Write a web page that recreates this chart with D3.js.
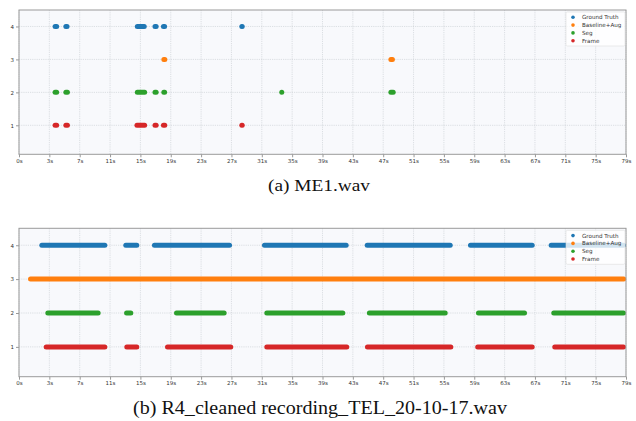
<!DOCTYPE html>
<html>
<head>
<meta charset="utf-8">
<script src="https://cdn.jsdelivr.net/npm/d3@7"></script>
<style>
  body { margin: 0; background: #fff; }
  svg { display: block; }
</style>
</head>
<body>
<script>
// series names + colours (matplotlib defaults)
const SERIES = ['Ground Truth', 'Baseline+Aug', 'Seg', 'Frame']
const LEVELS = [4, 3, 2, 1]
const COLORS = ['#1f77b4', '#ff7f0e', '#2ca02c', '#d62728']

// x ticks: 21 evenly spaced ticks over 79s, labels floored
const X_MAX = 79
const X_TICKS = d3.range(21).map(i => i * X_MAX / 20)
const Y_TICKS = [1, 2, 3, 4]

// (a) ME1.wav -- detected segments [start, end] in seconds
const me1_truth = [[4.7, 4.9], [6.1, 6.25], [15.4, 16.3], [17.7, 17.85], [18.8, 18.95], [29.0, 29.05]]
const me1_base = [[18.85, 18.98], [48.4, 48.6]]
const me1_seg = [[4.7, 4.9], [6.1, 6.3], [15.4, 16.35], [17.7, 17.85], [18.85, 18.95], [34.2, 34.2], [48.4, 48.7]]
const me1_frame = [[4.7, 4.9], [6.1, 6.3], [15.35, 16.35], [17.7, 17.85], [18.8, 18.97], [29.0, 29.05]]

// (b) R4_cleaned recording_TEL_20-10-17.wav
const r4_truth = [[2.97, 11.17], [13.9, 15.33], [17.63, 27.4], [31.95, 42.58], [45.32, 56.12], [58.76, 66.79], [69.26, 78.67]]
const r4_base = [[1.5, 78.7]]
const r4_seg = [[3.75, 10.3], [14.0, 14.55], [20.5, 26.7], [32.25, 42.14], [45.6, 55.47], [59.8, 65.79], [69.6, 78.67]]
const r4_frame = [[3.54, 11.17], [14.03, 15.33], [19.33, 27.56], [32.25, 42.66], [45.35, 56.2], [59.7, 66.79], [69.73, 78.67]]

const width = 636, height = 421

const svg = d3.select('body').append('svg')
  .attr('width', width)
  .attr('height', height)

function panel(top, bottom, data, caption, cap) {
  const margin = {left: 19, right: 10}
  const x = d3.scaleLinear().domain([0, X_MAX]).range([margin.left, width - margin.right])
  const y = d3.scaleLinear().domain([0.12, 4.5]).range([bottom, top])

  const g = svg.append('g')

  g.append('rect')
    .attr('x', x(0)).attr('y', top)
    .attr('width', x(X_MAX) - x(0)).attr('height', bottom - top)
    .attr('fill', '#f8f9fc')

  // grid
  g.append('g').selectAll('line')
    .data(X_TICKS)
    .join('line')
      .attr('x1', d => x(d)).attr('x2', d => x(d))
      .attr('y1', top).attr('y2', bottom)
      .attr('stroke', '#c8ccd2').attr('stroke-width', 0.6)
      .attr('stroke-dasharray', '1.2,1')
  g.append('g').selectAll('line')
    .data(Y_TICKS)
    .join('line')
      .attr('x1', x(0)).attr('x2', x(X_MAX))
      .attr('y1', d => y(d)).attr('y2', d => y(d))
      .attr('stroke', '#c8ccd2').attr('stroke-width', 0.6)
      .attr('stroke-dasharray', '1.2,1')

  // segments, drawn as fat dotted runs
  data.forEach((segs, i) => {
    g.append('g').selectAll('line')
      .data(segs)
      .join('line')
        .attr('x1', d => x(d[0])).attr('x2', d => x(d[1]))
        .attr('y1', y(LEVELS[i])).attr('y2', y(LEVELS[i]))
        .attr('stroke', COLORS[i])
        .attr('stroke-width', 5)
        .attr('stroke-linecap', 'round')
  })

  // axes
  const xAxis = d3.axisBottom(x)
    .tickValues(X_TICKS)
    .tickFormat(d => Math.floor(d + 1e-9) + 's')
    .tickSize(3).tickPadding(1.5)
  const yAxis = d3.axisLeft(y)
    .tickValues(Y_TICKS)
    .tickFormat(d3.format('d'))
    .tickSize(3).tickPadding(2)

  g.append('g')
    .attr('transform', `translate(0,${bottom})`)
    .call(xAxis)
    .call(a => a.select('.domain').remove())
  g.append('g')
    .attr('transform', `translate(${margin.left},0)`)
    .call(yAxis)
    .call(a => a.select('.domain').remove())
  g.selectAll('.tick line').attr('stroke', '#999')
  g.selectAll('.tick text')
    .attr('fill', '#333')
    .attr('font-family', 'DejaVu Sans')
    .attr('font-size', 5.5)

  g.append('rect')
    .attr('x', x(0)).attr('y', top)
    .attr('width', x(X_MAX) - x(0)).attr('height', bottom - top)
    .attr('fill', 'none')
    .attr('stroke', '#9a9a9a').attr('stroke-width', 1)

  // legend
  const lg = g.append('g')
    .attr('transform', `translate(${x(X_MAX) - 60},${top + 2})`)
  lg.append('rect')
    .attr('width', 59).attr('height', 34)
    .attr('rx', 1.5)
    .attr('fill', '#fff').attr('fill-opacity', 0.8)
    .attr('stroke', '#ddd').attr('stroke-width', 0.6)
  const item = lg.selectAll('g.item')
    .data(SERIES)
    .join('g')
      .attr('class', 'item')
      .attr('transform', (d, i) => `translate(0,${5.3 + i * 7.8})`)
  item.append('circle')
    .attr('cx', 7).attr('r', 1.8)
    .attr('fill', (d, i) => COLORS[i])
  item.append('text')
    .attr('x', 16).attr('dy', '0.35em')
    .attr('font-family', 'DejaVu Sans')
    .attr('font-size', 5.6)
    .attr('fill', '#333')
    .text(d => d)

  svg.append('text')
    .attr('x', cap.x).attr('y', cap.y)
    .attr('text-anchor', 'middle')
    .attr('font-family', 'Liberation Serif')
    .attr('font-size', cap.size)
    .attr('textLength', cap.len)
    .attr('lengthAdjust', 'spacingAndGlyphs')
    .attr('fill', '#111')
    .text(caption)
}

panel(10, 154.3, [me1_truth, me1_base, me1_seg, me1_frame], '(a) ME1.wav', {x: 319, y: 190.5, len: 102, size: 17})
panel(228.3, 376.7, [r4_truth, r4_base, r4_seg, r4_frame], '(b) R4_cleaned recording_TEL_20-10-17.wav', {x: 320, y: 414, len: 374, size: 18})
</script>
</body>
</html>
